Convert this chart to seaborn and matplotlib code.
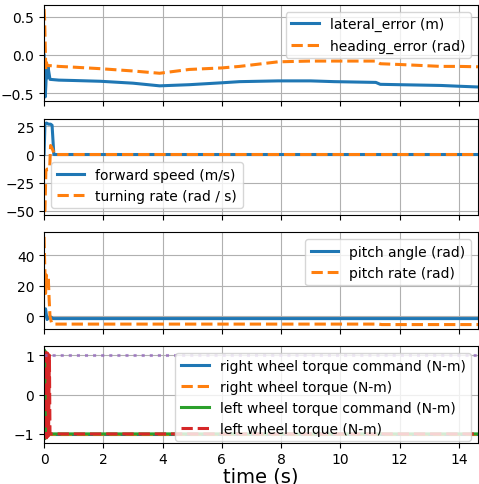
import matplotlib
matplotlib.use("Agg")
import matplotlib.pyplot as plt
import seaborn as sns
import pandas as pd

# ---------------- data ----------------
T_END = 14.65

# panel 1: errors
t_err = [0, 0.02, 0.04, 0.06, 0.08, 0.1, 0.13, 0.2, 0.5, 1, 1.9, 3, 3.9, 4.9, 6, 6.6,
         7.9, 9, 9.8, 11.2, 11.35, 12, 13.4, 14, 14.65]
lateral_error = [0, -0.45, -0.55, -0.4, -0.2, -0.3, -0.15, -0.32, -0.33, -0.335, -0.345,
                 -0.37, -0.405, -0.39, -0.365, -0.35, -0.34, -0.34, -0.35, -0.36, -0.385,
                 -0.39, -0.40, -0.41, -0.42]
heading_error = [0.6, 0.45, 0.1, -0.2, -0.1, -0.13, -0.14, -0.14, -0.15, -0.16, -0.18,
                 -0.21, -0.24, -0.19, -0.17, -0.15, -0.09, -0.08, -0.08, -0.08, -0.115,
                 -0.125, -0.15, -0.15, -0.155]

# panel 2: speeds
t_spd = [0, 0.03, 0.08, 0.15, 0.22, 0.27, 0.33, T_END]
forward_speed = [0, 27, 28, 27, 27, 26, 0, 0]
t_turn = [0, 0.03, 0.06, 0.1, 0.15, 0.19, 0.22, 0.28, 0.35, T_END]
turning_rate = [-50, -50, -15, -13, -13, -12, 8, 5, 0, 0]

# panel 3: pitch
t_pitch = [0, 0.05, 0.1, 0.2, 0.3, T_END]
pitch_angle = [0, 5, -2, 0, -1.4, -1.4]
t_prate = [0, 0.02, 0.05, 0.08, 0.11, 0.14, 0.17, 0.2, 0.25, 0.3, 11.3, 11.4, T_END]
pitch_rate = [52, 35, 15, 27, 20, 26, 12, 0, -4, -5, -5, -5.3, -5.3]

# panel 4: torques
t_rtq = [0, T_END]
right_cmd = [-1, -1]
right_tq = [-1, -1]
t_lcmd = [0, 0.02, 0.04, 0.06, 0.08, 0.1, 0.12, T_END]
left_cmd = [1.12, -1.12, 1.1, -1.1, 1.0, -1.0, -1.0, -1.0]
t_ltq = [0.06, 0.09, 0.12, 0.15, 0.18, 0.2, T_END]
left_tq = [1.1, -1.1, 1.05, -1.05, 1.0, -1.0, -1.0]
t_lim = [0, T_END]
torque_limit = [1, 1]

# tick values
yticks = [[-0.5, 0.0, 0.5], [-50, -25, 0, 25], [0, 20, 40], [-1, 0, 1]]
xticks = [0, 2, 4, 6, 8, 10, 12, 14]

# ---------------- plot ----------------
plt.rcParams['font.family'] = ['DejaVu Sans']
fig, axes = plt.subplots(4, 1, sharex=True, figsize=(4.79, 4.85), dpi=100)
fig.subplots_adjust(left=0.092, right=0.998, top=0.988, bottom=0.085, hspace=0.18)

C = plt.rcParams['axes.prop_cycle'].by_key()['color']
LW = 2.2


def line(ax, x, y, color, ls='-', label=None, **kw):
    sns.lineplot(x=x, y=y, ax=ax, color=color, linestyle=ls, linewidth=LW,
                 label=label, estimator=None, sort=False, **kw)


ax = axes[0]
line(ax, t_err, lateral_error, C[0], '-', 'lateral_error (m)')
line(ax, t_err, heading_error, C[1], '--', 'heading_error (rad)')
ax.legend(loc='upper right')

ax = axes[1]
line(ax, t_spd, forward_speed, C[0], '-', 'forward speed (m/s)')
line(ax, t_turn, turning_rate, C[1], '--', 'turning rate (rad / s)')
ax.legend(loc='lower left')

ax = axes[2]
line(ax, t_pitch, pitch_angle, C[0], '-', 'pitch angle (rad)')
line(ax, t_prate, pitch_rate, C[1], '--', 'pitch rate (rad)')
ax.legend(loc='upper right')

ax = axes[3]
line(ax, t_rtq, right_cmd, C[0], '-', 'right wheel torque command (N-m)')
line(ax, t_rtq, right_tq, C[1], '--', 'right wheel torque (N-m)')
line(ax, t_lcmd, left_cmd, C[2], '-', 'left wheel torque command (N-m)')
line(ax, t_ltq, left_tq, C[3], '--', 'left wheel torque (N-m)')
line(ax, t_lim, torque_limit, C[4], ':', None, alpha=0.7)
ax.legend(loc='upper right')
ax.set_ylim(-1.225, 1.225)

for ax, yt in zip(axes, yticks):
    ax.grid(True)
    ax.set_xlim(0, T_END)
    ax.set_yticks(yt)
    ax.set_xticks(xticks)
    ax.set_ylabel('')
    ax.set_xlabel('')

axes[3].set_xlabel('time (s)', fontsize=14, labelpad=0)

fig.savefig('out.png', dpi=100)
